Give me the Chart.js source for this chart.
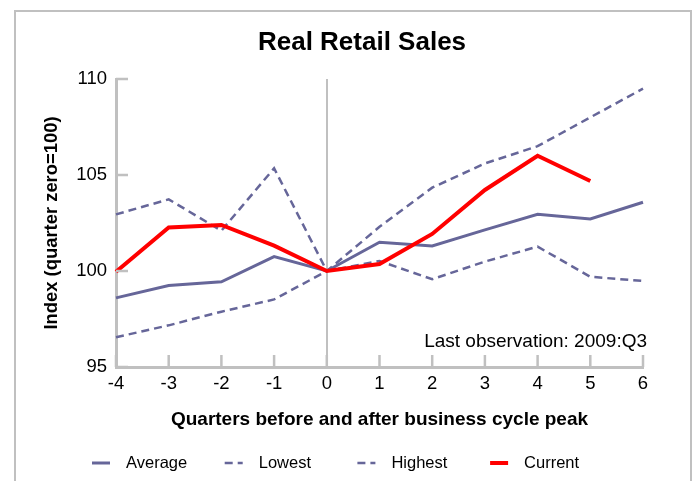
<!DOCTYPE html>
<html>
<head>
<meta charset="utf-8">
<script src="https://cdn.jsdelivr.net/npm/chart.js@4"></script>
<style>
  html, body { margin: 0; padding: 0; background: #fff; }
  #wrap { width: 693px; height: 481px; }
</style>
</head>
<body>
<div id="wrap"><canvas id="myChart" width="693" height="481"></canvas></div>
<script>
const quarters = [-4, -3, -2, -1, 0, 1, 2, 3, 4, 5, 6];
const average = [98.6, 99.24, 99.44, 100.75, 100, 101.5, 101.3, 102.14, 102.95, 102.71, 103.58];
const lowest  = [96.55, 97.17, 97.88, 98.52, 100, 100.52, 99.57, 100.49, 101.27, 99.7, 99.48];
const highest = [102.95, 103.73, 102.1, 105.35, 100, 102.3, 104.34, 105.6, 106.5, 108.0, 109.5];
const current = [99.96, 102.27, 102.4, 101.32, 100, 100.36, 101.93, 104.22, 106.0, 104.69, null];
const yTicks = [95, 100, 105, 110];
const chartTitle = 'Real Retail Sales';
const note = 'Last observation: 2009:Q3';

const AXIS = '#c0c0c0';
const NAVY = '#666699';
const FONT = "'Liberation Sans', Arial, sans-serif";

// frame, title, inward tick marks, note and legend
const extras = {
  id: 'extras',
  beforeDraw(chart) {
    const ctx = chart.ctx;
    ctx.save();
    ctx.strokeStyle = AXIS;
    ctx.lineWidth = 2;
    ctx.beginPath();
    ctx.moveTo(15, 481);
    ctx.lineTo(15, 11);
    ctx.lineTo(691, 11);
    ctx.lineTo(691, 481);
    ctx.stroke();

    ctx.fillStyle = '#000';
    ctx.font = 'bold 26px ' + FONT;
    ctx.textAlign = 'center';
    ctx.textBaseline = 'middle';
    ctx.fillText(chartTitle, 362, 43);
    ctx.restore();
  },
  afterDraw(chart) {
    const ctx = chart.ctx;
    const a = chart.chartArea;
    const x = chart.scales.x, y = chart.scales.y;
    ctx.save();
    ctx.strokeStyle = AXIS;
    ctx.lineWidth = 2.5;
    ctx.beginPath();
    yTicks.forEach(v => {
      const py = y.getPixelForValue(v);
      ctx.moveTo(a.left, py);
      ctx.lineTo(a.left + 12, py);
    });
    quarters.forEach((q, i) => {
      const px = x.getPixelForValue(i);
      ctx.moveTo(px, a.bottom);
      ctx.lineTo(px, a.bottom - 12);
    });
    ctx.stroke();

    ctx.fillStyle = '#000';
    ctx.font = '19px ' + FONT;
    ctx.textAlign = 'right';
    ctx.textBaseline = 'middle';
    ctx.fillText(note, a.right + 4, a.bottom - 25);

    // legend
    ctx.font = '16.5px ' + FONT;
    ctx.textAlign = 'left';
    chart.data.datasets.forEach((ds, i) => {
      const lx = 92 + i * 132.7;
      const ly = 463;
      ctx.strokeStyle = ds.borderColor;
      ctx.lineWidth = ds.borderWidth;
      ctx.setLineDash(ds.borderDash || []);
      ctx.beginPath();
      ctx.moveTo(lx, ly);
      ctx.lineTo(lx + 18, ly);
      ctx.stroke();
      ctx.setLineDash([]);
      ctx.fillText(ds.label, lx + 34, ly);
    });
    ctx.restore();
  }
};

const config = {
  type: 'line',
  data: {
    labels: quarters.map(String),
    datasets: [
      { label: 'Average', data: average, borderColor: NAVY, borderWidth: 3, order: 3 },
      { label: 'Lowest', data: lowest, borderColor: NAVY, borderWidth: 2.5, borderDash: [8, 5], order: 2 },
      { label: 'Highest', data: highest, borderColor: NAVY, borderWidth: 2.5, borderDash: [8, 5], order: 1 },
      { label: 'Current', data: current, borderColor: '#ff0000', borderWidth: 4, order: 0 }
    ]
  },
  options: {
    responsive: false,
    animation: false,
    elements: { point: { radius: 0 }, line: { tension: 0 } },
    layout: { padding: { left: 0, right: 50, top: 79, bottom: 0 } },
    plugins: {
      legend: { display: false },
      tooltip: { enabled: false },
      title: { display: false }
    },
    scales: {
      x: {
        offset: false,
        afterFit: s => { s.height = 114; },
        grid: {
          drawTicks: false,
          lineWidth: 2,
          color: c => (quarters[c.index] === 0 ? AXIS : 'rgba(0,0,0,0)')
        },
        border: { color: AXIS, width: 3 },
        ticks: { color: '#000', padding: 6, font: { family: FONT, size: 18.5 }, maxRotation: 0 },
        title: {
          display: true,
          text: 'Quarters before and after business cycle peak',
          color: '#000',
          font: { family: FONT, size: 19, weight: 'bold' },
          padding: { top: 0, bottom: 50 }
        }
      },
      y: {
        min: 95,
        max: 110,
        afterFit: s => { s.width = 116; },
        afterBuildTicks: s => { s.ticks = yTicks.map(v => ({ value: v })); },
        grid: { drawTicks: false, color: 'rgba(0,0,0,0)' },
        border: { color: AXIS, width: 3 },
        ticks: { color: '#000', padding: 9, font: { family: FONT, size: 18.5 } },
        title: {
          display: true,
          text: 'Index (quarter zero=100)',
          color: '#000',
          font: { family: FONT, size: 18.4, weight: 'bold' },
          padding: { top: 41, bottom: 0 }
        }
      }
    }
  },
  plugins: [extras]
};

var myChart = new Chart(document.getElementById('myChart'), config);
</script>
</body>
</html>
